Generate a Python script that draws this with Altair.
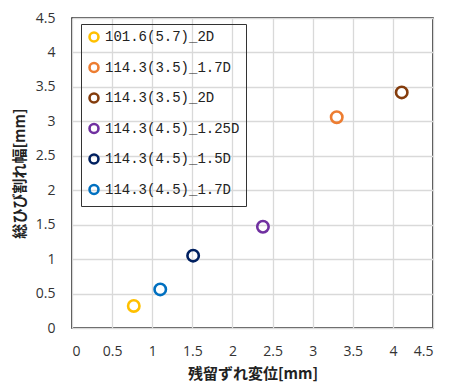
import altair as alt
import pandas as pd

series = ["101.6(5.7)_2D", "114.3(3.5)_1.7D", "114.3(3.5)_2D",
          "114.3(4.5)_1.25D", "114.3(4.5)_1.5D", "114.3(4.5)_1.7D"]
x_vals = [0.77, 3.30, 4.11, 2.38, 1.51, 1.10]
y_vals = [0.32, 3.06, 3.42, 1.47, 1.05, 0.56]
colors = ["#FFC000", "#ED7D31", "#843C0C", "#7030A0", "#002060", "#0070C0"]
ticks = [0, 0.5, 1, 1.5, 2, 2.5, 3, 3.5, 4, 4.5]

df = pd.DataFrame({"series": series, "x": x_vals, "y": y_vals})

chart = alt.Chart(df).mark_point(
    shape="circle", filled=False, size=130, strokeWidth=2.6, opacity=1
).encode(
    x=alt.X("x:Q", scale=alt.Scale(domain=[0, 4.5], nice=False),
            axis=alt.Axis(values=ticks, title="残留ずれ変位[mm]", labelPadding=16,
                          titlePadding=8, format="~g")),
    y=alt.Y("y:Q", scale=alt.Scale(domain=[0, 4.5], nice=False),
            axis=alt.Axis(values=ticks, title="総ひび割れ幅[mm]", labelPadding=17,
                          titlePadding=8, format="~g")),
    color=alt.Color("series:N", scale=alt.Scale(domain=series, range=colors),
                    legend=alt.Legend(title=None, orient="none", legendX=9, legendY=6,
                                      strokeColor="#333", padding=6,
                                      symbolType="circle", symbolSize=80,
                                      symbolStrokeWidth=2.6, symbolFillColor="white",
                                      labelFont="Liberation Mono", labelFontSize=14,
                                      labelColor="#222", rowPadding=10.5,
                                      labelOffset=4, labelLimit=300)),
).properties(
    width=361, height=310,
    autosize=alt.AutoSizeParams(type="none"),
    padding={"left": 64, "top": 10, "right": 11, "bottom": 56},
).configure_axis(
    grid=True, gridColor="#d9d9d9", gridWidth=1.3, ticks=False, domain=False,
    labelFont="Open Sans", labelFontSize=14, labelColor="#333",
    titleFont="Noto Sans CJK JP", titleFontSize=15, titleFontWeight="bold", titleColor="#222",
).configure_view(
    stroke="#111", strokeWidth=1.5
)

chart.save("out.html", embed_options={"renderer": "svg", "actions": False})
